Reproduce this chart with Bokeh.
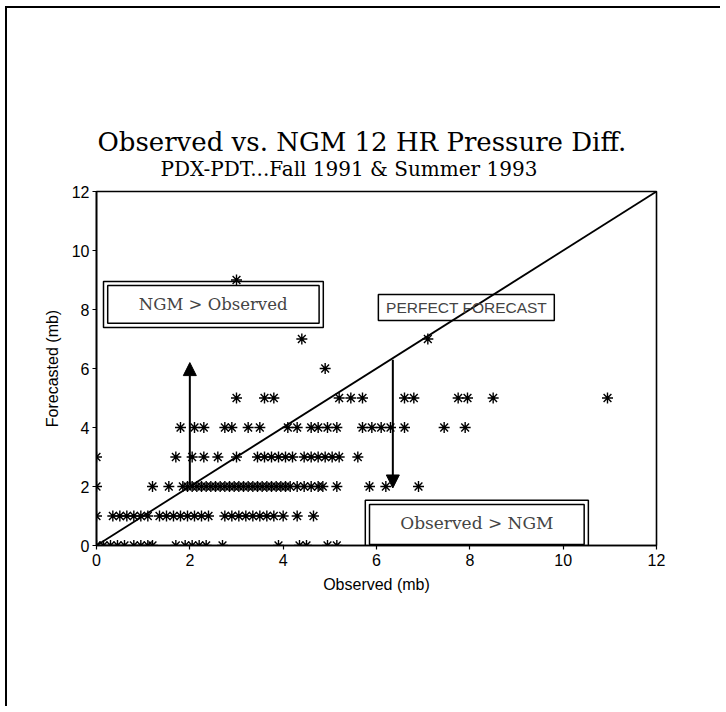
from bokeh.plotting import figure
from bokeh.models import Range1d, Label, BoxAnnotation, Arrow, NormalHead, ColumnDataSource, Title
from bokeh.embed import file_html
from bokeh.resources import INLINE

# ---- data: observed values (mb) grouped by forecasted value (mb) ----
obs_fc0 = [0, 0.15, 0.3, 0.45, 0.6, 0.8, 0.95, 1.1, 1.2, 1.7, 1.9, 2.05, 2.2, 2.35, 2.7,
           3.9, 4.35, 4.5, 4.95, 5.15]
obs_fc1 = [0, 0.35, 0.5, 0.65, 0.8, 0.95, 1.1, 1.35, 1.5, 1.65, 1.8, 1.95, 2.1, 2.25, 2.4,
           2.75, 2.9, 3.05, 3.2, 3.35, 3.5, 3.65, 3.8, 4.0, 4.3, 4.65]
obs_fc2 = [0, 1.2, 1.55, 1.85, 1.95, 2.05, 2.15, 2.25, 2.35, 2.45, 2.55, 2.65, 2.75, 2.85,
           2.95, 3.05, 3.15, 3.25, 3.35, 3.45, 3.55, 3.65, 3.75, 3.85, 3.95, 4.05, 4.15,
           4.3, 4.45, 4.6, 4.75, 4.85, 5.15, 5.85, 6.2, 6.9]
obs_fc3 = [0, 1.7, 2.05, 2.3, 2.6, 3.0, 3.45, 3.6, 3.75, 3.9, 4.05, 4.2, 4.45, 4.6, 4.75,
           4.9, 5.05, 5.2, 5.6]
obs_fc4 = [1.8, 2.1, 2.3, 2.75, 2.9, 3.25, 3.5, 4.1, 4.3, 4.6, 4.75, 4.95, 5.15, 5.7, 5.9,
           6.1, 6.3, 6.6, 7.45, 7.9]
obs_fc5 = [3.0, 3.6, 3.8, 5.2, 5.45, 5.7, 6.6, 6.8, 7.75, 7.95, 8.5, 10.95]
obs_fc6 = [4.9]
obs_fc7 = [4.4, 7.1]
obs_fc9 = [3.0]

forecast_levels = [0, 1, 2, 3, 4, 5, 6, 7, 9]
obs_groups = [obs_fc0, obs_fc1, obs_fc2, obs_fc3, obs_fc4, obs_fc5, obs_fc6, obs_fc7, obs_fc9]

perfect_x = [0, 12]
perfect_y = [0, 12]

ticks = [0, 2, 4, 6, 8, 10, 12]

observed = []
forecasted = []
for lvl, grp in zip(forecast_levels, obs_groups):
    for o in grp:
        observed.append(o)
        forecasted.append(lvl)

src = ColumnDataSource(dict(x=observed, y=forecasted))

SANS = "Liberation Sans"
SERIF = "DejaVu Serif"

p = figure(width=715, height=700, x_range=Range1d(0, 12), y_range=Range1d(0, 12),
           output_backend="svg", toolbar_location=None, title=None,
           min_border_left=89, min_border_right=66, min_border_top=183, min_border_bottom=163)
p.background_fill_color = "white"
p.border_fill_color = "white"
p.outline_line_color = "black"
p.outline_line_width = 1.6
p.grid.visible = False
p.styles = {"border-top": "2px solid black", "border-left": "2px solid black",
            "margin-left": "5px", "margin-top": "6px"}

# titles (subtitle added first: closest to the frame)
p.add_layout(Title(text="PDX-PDT...Fall 1991 & Summer 1993", align="left", offset=64,
                   text_font=SERIF, text_font_size="20px", text_font_style="normal",
                   text_color="black", standoff=21), "above")
p.add_layout(Title(text="Observed vs. NGM 12 HR Pressure Diff.", align="left", offset=1,
                   text_font=SERIF, text_font_size="26px", text_font_style="normal",
                   text_color="black", standoff=-24), "above")

for ax in (p.xaxis, p.yaxis):
    ax.ticker = ticks
    ax.axis_line_color = "black"
    ax.axis_line_width = 1.6
    ax.major_tick_line_color = "black"
    ax.major_tick_line_width = 1.2
    ax.major_tick_out = 4
    ax.major_tick_in = 0
    ax.minor_tick_out = 0
    ax.minor_tick_in = 0
    ax.major_label_text_font = SANS
    ax.major_label_text_font_size = "16px"
    ax.major_label_text_color = "black"
    ax.axis_label_text_font = SANS
    ax.axis_label_text_font_size = "16px"
    ax.axis_label_text_font_style = "normal"
    ax.axis_label_text_color = "black"

p.xaxis.axis_label = "Observed (mb)"
p.yaxis.axis_label = "Forecasted (mb)"
p.xaxis.major_label_standoff = 4
p.xaxis.axis_label_standoff = 7
p.yaxis.major_label_standoff = 3
p.yaxis.axis_label_standoff = 8

# perfect forecast line
p.line(perfect_x, perfect_y, line_color="black", line_width=1.8)

# observations
p.scatter("x", "y", source=src, marker="asterisk", size=11, line_color="black", line_width=1.4)

# ---- annotation boxes ----
def box(l, r, b, t, w=1.5):
    p.add_layout(BoxAnnotation(left=l, right=r, bottom=b, top=t, fill_alpha=0,
                               line_color="black", line_width=w, line_alpha=1))

# NGM > Observed (double box)
box(0.15, 4.86, 7.39, 8.95)
box(0.24, 4.77, 7.53, 8.81)
p.add_layout(Label(x=2.5, y=8.17, text="NGM > Observed", text_align="center",
                   text_baseline="middle", text_font=SERIF, text_font_size="16.5px"))

# PERFECT FORECAST (single box)
box(6.04, 9.81, 7.63, 8.51)
p.add_layout(Label(x=7.93, y=8.07, text="PERFECT FORECAST", text_align="center",
                   text_baseline="middle", text_font=SANS, text_font_size="15.5px"))

# Observed > NGM (double box)
box(5.76, 10.54, -0.1, 1.53)
box(5.85, 10.45, 0.03, 1.39)
p.add_layout(Label(x=8.15, y=0.75, text="Observed > NGM", text_align="center",
                   text_baseline="middle", text_font=SERIF, text_font_size="17px"))

# ---- arrows ----
p.add_layout(Arrow(x_start=2.0, y_start=2.1, x_end=2.0, y_end=6.2, line_width=2,
                   end=NormalHead(size=13, fill_color="black", line_color="black")))
p.add_layout(Arrow(x_start=6.35, y_start=6.3, x_end=6.35, y_end=1.95, line_width=2,
                   end=NormalHead(size=13, fill_color="black", line_color="black")))

open("out.html", "w").write(file_html(p, INLINE))
